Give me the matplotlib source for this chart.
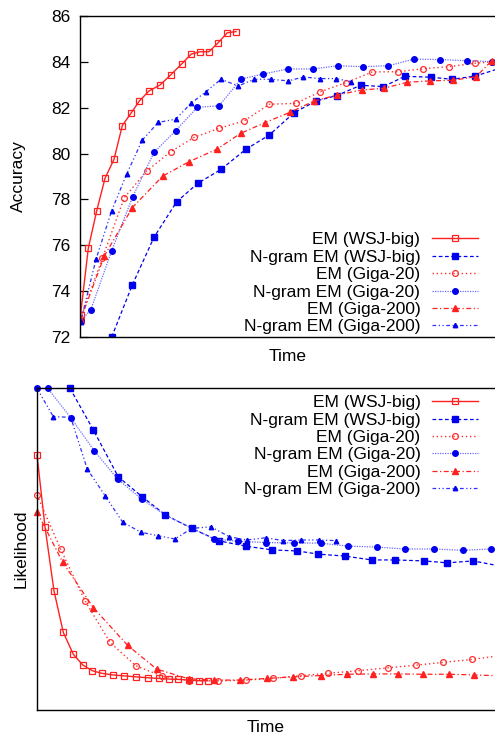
import matplotlib
matplotlib.use('Agg')
import matplotlib.pyplot as plt

plt.rcParams['font.family'] = ['Liberation Sans', 'DejaVu Sans']
plt.rcParams['font.size'] = 12.5

# ---- accuracy panel (time in arbitrary units) ----
acc_em_wsj_t = [0.5, 8.3, 16.7, 25, 34, 42.3, 51, 59.3, 69, 80, 90.7, 101.7, 111.3, 120, 129, 138.3, 147.3, 156]
acc_em_wsj = [72.96, 75.87, 77.50, 78.92, 79.75, 81.22, 81.76, 82.29, 82.73, 82.99, 83.43, 83.91, 84.34, 84.44, 84.44, 84.84, 85.27, 85.32]

acc_ng_wsj_t = [31.7, 52.3, 74, 96.7, 117.7, 141, 166, 189.3, 214, 236, 256.7, 280.7, 303.3, 325, 351, 372.3, 395.3, 420]
acc_ng_wsj = [72.0, 74.27, 76.35, 77.90, 78.70, 79.31, 80.19, 80.81, 81.78, 82.29, 82.53, 82.98, 82.92, 83.37, 83.33, 83.24, 83.38, 83.72]

acc_em_g20_t = [0.5, 22.3, 44.3, 66.7, 90.7, 114.3, 139, 164.3, 189.3, 215.7, 240, 265.7, 292.3, 318.3, 343.3, 369, 395, 412]
acc_em_g20 = [72.8, 75.43, 78.08, 79.24, 80.08, 80.71, 81.1, 81.43, 82.15, 82.19, 82.69, 83.09, 83.56, 83.57, 83.7, 83.79, 83.94, 84.0]

acc_ng_g20_t = [0.5, 10.7, 31.7, 52.7, 74, 95.7, 117.3, 139, 161, 183.3, 207.7, 232.7, 258.3, 282.7, 308.3, 334, 360, 386.7, 411.7]
acc_ng_g20 = [72.7, 73.18, 75.76, 78.12, 80.05, 81.0, 82.02, 82.08, 83.25, 83.47, 83.69, 83.69, 83.83, 83.79, 83.83, 84.12, 84.10, 84.05, 84.01]

acc_em_g200_t = [0.5, 24.3, 52.3, 82.7, 109.3, 137.3, 160.5, 185, 210, 234, 256.7, 281.7, 304, 327.3, 350, 373.3, 396, 411.7]
acc_em_g200 = [72.75, 75.53, 77.64, 79.02, 79.65, 80.2, 80.88, 81.35, 81.8, 82.29, 82.55, 82.77, 82.85, 83.11, 83.17, 83.2, 83.35, 84.05]

acc_ng_g200_t = [0.5, 16, 31.7, 46.7, 62.3, 78.3, 95.7, 111, 126, 141, 158.3, 174.3, 191, 208.3, 223.3, 240, 256, 271]
acc_ng_g200 = [72.65, 75.39, 77.51, 79.11, 80.59, 81.36, 81.5, 82.19, 82.7, 83.24, 82.95, 83.24, 83.24, 83.17, 83.34, 83.27, 83.27, 83.14]

acc_ticks = [72, 74, 76, 78, 80, 82, 84, 86]

# ---- likelihood panel (arbitrary units) ----
lik_em_wsj_t = [0, 8, 17, 26.3, 36.3, 45.7, 55.3, 64.7, 75.7, 87, 98.7, 111.3, 122, 132, 141.3, 152, 162, 170.7]
lik_em_wsj = [79.2, 56.9, 37.0, 24.1, 17.3, 14.0, 12.2, 11.4, 10.9, 10.6, 10.3, 10.0, 9.8, 9.6, 9.5, 9.3, 9.1, 9.1]

lik_ng_wsj_t = [33, 56.3, 81.3, 105.3, 128.3, 154.7, 182.3, 208.5, 235.3, 260.3, 281.3, 308, 334.7, 358, 387, 410.3, 436.3, 463]
lik_ng_wsj = [99.9, 87.0, 72.4, 66.2, 60.6, 56.4, 52.5, 50.9, 49.7, 49.4, 48.4, 47.8, 46.6, 46.6, 46.3, 45.7, 46.3, 44.7]

lik_em_g20_t = [0, 23.7, 48, 73, 99, 125.3, 152.3, 180.7, 209, 236.3, 264, 291.3, 321.3, 350.7, 378.7, 406.3, 435.3, 463]
lik_em_g20 = [66.8, 49.9, 33.9, 21.0, 13.7, 10.5, 9.1, 9.0, 9.3, 9.8, 10.7, 11.4, 12.2, 13.1, 13.9, 14.8, 15.7, 16.9]

lik_ng_g20_t = [0, 10.7, 33.7, 57.3, 80.7, 104.7, 128, 154.7, 177, 201.3, 229, 256.5, 284, 310.7, 339.7, 368, 397.3, 425.7, 453.7]
lik_ng_g20 = [99.9, 99.9, 90.8, 80.5, 71.7, 65.5, 60.6, 56.5, 53.1, 52.4, 52.0, 51.9, 51.8, 50.9, 50.6, 50.0, 50.0, 49.6, 50.0]

lik_em_g200_t = [0, 25.5, 56.3, 90.5, 119.7, 151.5, 177, 203, 229.7, 256.3, 283.7, 309.7, 335.7, 360.7, 386.3, 412, 437.3, 463]
lik_em_g200 = [61.6, 46.0, 31.8, 20.1, 12.7, 9.7, 9.3, 9.3, 9.8, 10.3, 10.7, 11.1, 11.2, 11.2, 11.1, 11.1, 10.9, 10.6]

lik_ng_g200_t = [0, 16.3, 33.7, 50.3, 68, 85.7, 104, 121.3, 138, 154.7, 174, 192.3, 209.7, 229, 246, 264, 282, 299]
lik_ng_g200 = [99.9, 91.1, 90.9, 74.8, 66.6, 58.3, 55.2, 54.1, 53.1, 56.4, 56.9, 53.8, 52.8, 53.5, 52.6, 52.8, 52.8, 52.6]

labels = ['EM (WSJ-big)', 'N-gram EM (WSJ-big)', 'EM (Giga-20)',
          'N-gram EM (Giga-20)', 'EM (Giga-200)', 'N-gram EM (Giga-200)']

styles = [
    dict(color='#ff2020', ls='-', lw=1.0, marker='s', ms=4.2, mfc='none', mec='#ff2020', mew=0.9),
    dict(color='#0000ee', ls=(0, (3, 2)), lw=0.9, marker='s', ms=4.4, mfc='#0000ee', mec='#0000ee'),
    dict(color='#ff3030', ls=(0, (1, 2)), lw=1.0, marker='o', ms=4.2, mfc='none', mec='#ff3030', mew=0.9),
    dict(color='#6a6aff', ls=(0, (1, 1)), lw=0.9, marker='o', ms=4.0, mfc='#0000ee', mec='#0000ee'),
    dict(color='#ff2020', ls=(0, (4, 2, 1, 2)), lw=0.9, marker='^', ms=4.2, mfc='#ff2020', mec='#ff2020'),
    dict(color='#3030ff', ls=(0, (3, 2, 1, 2, 1, 2)), lw=0.9, marker='^', ms=3.2, mfc='#0000ee', mec='#0000ee'),
]

fig = plt.figure(figsize=(4.95, 7.35), dpi=100)
W, H = 495.0, 735.0

def right_align_legend(leg):
    vp = leg._legend_box._children[-1]._children[0]
    vp.align = 'right'

# top panel
ax1 = fig.add_axes([80 / W, 1 - 337 / H, 1 - 80 / W, (337 - 16) / H])
acc_series = [(acc_em_wsj_t, acc_em_wsj), (acc_ng_wsj_t, acc_ng_wsj),
              (acc_em_g20_t, acc_em_g20), (acc_ng_g20_t, acc_ng_g20),
              (acc_em_g200_t, acc_em_g200), (acc_ng_g200_t, acc_ng_g200)]
for (t, v), lab, st in zip(acc_series, labels, styles):
    ax1.plot(t, v, label=lab, **st)
ax1.set_xlim(0, 415)
ax1.set_ylim(72, 86)
ax1.set_yticks(acc_ticks)
ax1.set_xticks([])
ax1.tick_params(axis='y', direction='in', length=6, width=0.9, pad=7)
ax1.spines['right'].set_visible(False)
for s in ['left', 'top', 'bottom']:
    ax1.spines[s].set_linewidth(1.0)
ax1.set_ylabel('Accuracy')
ax1.yaxis.set_label_coords(-0.130, 0.5)
ax1.set_xlabel('Time')
ax1.xaxis.set_label_coords(0.5, -0.037)
leg1 = ax1.legend(loc='lower right', bbox_to_anchor=(0.959, 0.008), frameon=False,
                  markerfirst=False, borderpad=0, borderaxespad=0,
                  labelspacing=0.13, handlelength=2.65, handletextpad=0.67)
right_align_legend(leg1)

# bottom panel
ax2 = fig.add_axes([37 / W, 1 - 710 / H, 1 - 37 / W, (710 - 388) / H])
lik_series = [(lik_em_wsj_t, lik_em_wsj), (lik_ng_wsj_t, lik_ng_wsj),
              (lik_em_g20_t, lik_em_g20), (lik_ng_g20_t, lik_ng_g20),
              (lik_em_g200_t, lik_em_g200), (lik_ng_g200_t, lik_ng_g200)]
for (t, v), lab, st in zip(lik_series, labels, styles):
    ax2.plot(t, v, label=lab, clip_on=False, **st)
ax2.set_xlim(0, 458)
ax2.set_ylim(0, 100)
ax2.set_xticks([])
ax2.set_yticks([])
ax2.spines['right'].set_visible(False)
for s in ['left', 'top', 'bottom']:
    ax2.spines[s].set_linewidth(1.0)
ax2.set_ylabel('Likelihood')
ax2.yaxis.set_label_coords(-0.019, 0.5)
ax2.set_xlabel('Time')
ax2.xaxis.set_label_coords(0.5, -0.031)
leg2 = ax2.legend(loc='upper right', bbox_to_anchor=(0.963, 0.978), frameon=False,
                  markerfirst=False, borderpad=0, borderaxespad=0,
                  labelspacing=0.13, handlelength=2.65, handletextpad=0.67)
right_align_legend(leg2)

fig.savefig('out.png', dpi=100)
